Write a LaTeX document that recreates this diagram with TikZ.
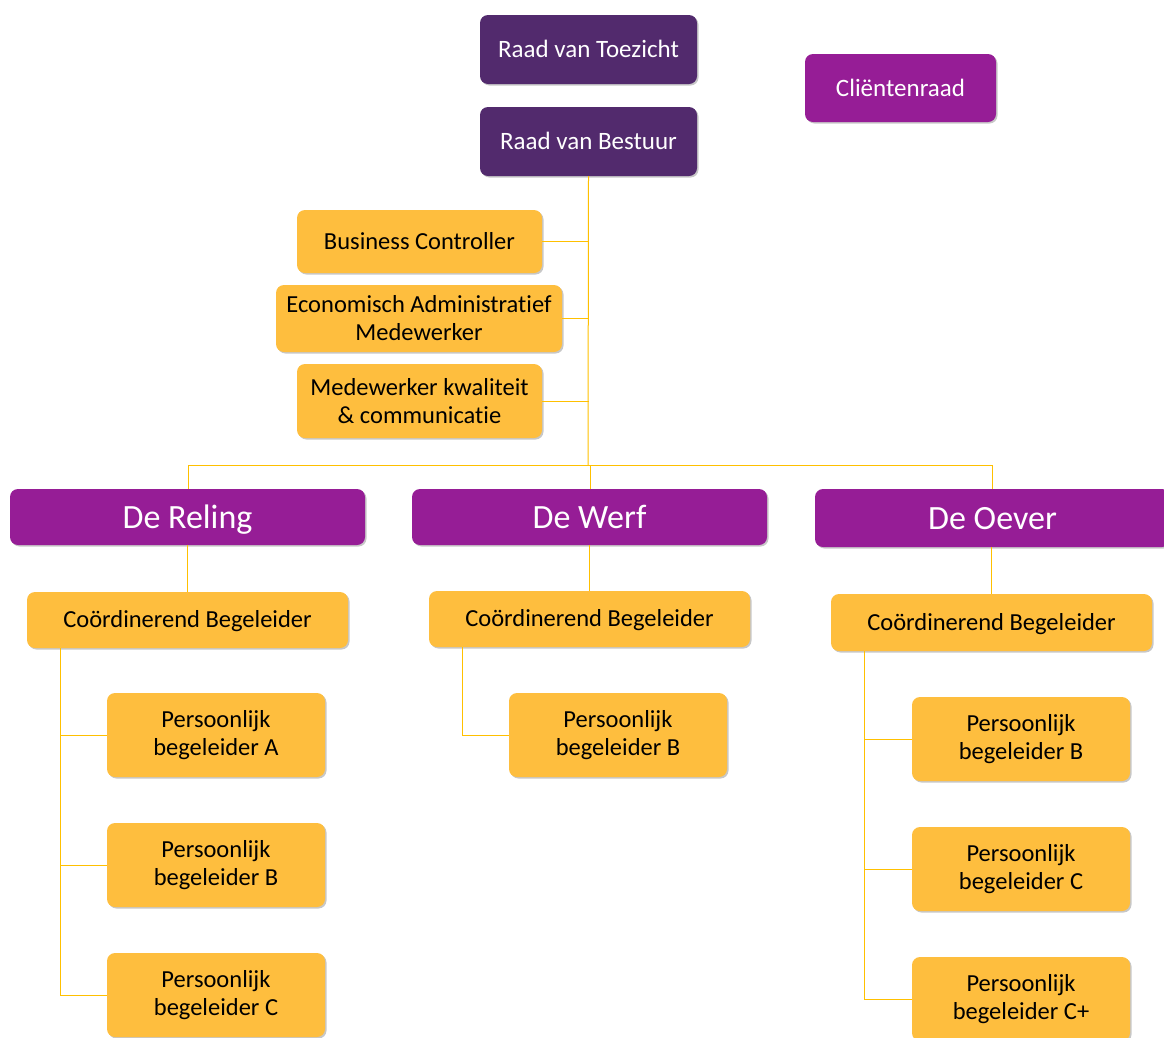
\documentclass[tikz,border=0pt]{standalone}
\usepackage{fontspec}
\setmainfont[Ligatures=NoCommon]{Carlito}
\usetikzlibrary{shadows}
\definecolor{dpurple}{HTML}{522A6D}
\definecolor{mpurple}{HTML}{961D96}
\definecolor{ybox}{HTML}{FEBE3E}
\definecolor{yline}{HTML}{FFC000}
\tikzset{
  base/.style={rounded corners=8pt, inner sep=0pt, align=center,
    general shadow={fill=black, opacity=0.22, shadow xshift=1.5pt, shadow yshift=-1.5pt}},
  dbox/.style={base, fill=dpurple, text=white, font=\fontsize{25}{28}\selectfont},
  mbox/.style={base, fill=mpurple, text=white, font=\fontsize{25}{28}\selectfont},
  lbox/.style={base, fill=mpurple, text=white, font=\fontsize{34}{38}\selectfont},
  obox/.style={base, fill=ybox, text=black, font=\fontsize{24.5}{28}\selectfont},
  one/.style={text height=#1, text depth=0pt},
  conn/.style={draw=yline, line width=1pt}
}
\begin{document}
\begin{tikzpicture}[x=1pt, y=-1pt]
\useasboundingbox (0,0) rectangle (1164,1037);
\coordinate (bus) at (588,465);
\coordinate (busL) at (188,465);
\coordinate (busM) at (590,465);
\coordinate (busR) at (992,465);
\coordinate (vL) at (60,648);
\coordinate (vM) at (462,647);
\coordinate (vR) at (864,651);

% top
\node[dbox, one=16pt, minimum width=217pt, minimum height=69pt] (rvt) at (588.5,49.5) {Raad van Toezicht};
\node[dbox, one=16pt, minimum width=217pt, minimum height=69pt] (rvb) at (588.5,141.5) {Raad van Bestuur};
\node[mbox, one=16pt, minimum width=191pt, minimum height=68pt] (cr) at (900.5,88) {Cliëntenraad};

% staff
\node[obox, one=15.8pt, minimum width=245pt, minimum height=63pt] (bc) at (419.5,241.5) {Business Controller};
\node[obox, minimum width=286pt, minimum height=67pt] (eam) at (419,318.5) {Economisch Administratief\\Medewerker};
\node[obox, minimum width=245pt, minimum height=74pt] (mkc) at (419.5,401) {Medewerker kwaliteit\\\& communicatie};

% locations
\node[lbox, one=22pt, minimum width=355pt, minimum height=56pt] (rel) at (187.5,517) {De Reling};
\node[lbox, one=22pt, minimum width=355pt, minimum height=56pt] (werf) at (589.5,517) {De Werf};
\node[lbox, one=22pt, minimum width=355pt, minimum height=58pt] (oev) at (992.5,518) {De Oever};

% coordinators
\node[obox, one=15.8pt, minimum width=321pt, minimum height=56pt] (cbL) at (187.5,620) {Coördinerend Begeleider};
\node[obox, one=15.8pt, minimum width=321pt, minimum height=56pt] (cbM) at (589.5,619) {Coördinerend Begeleider};
\node[obox, one=15.8pt, minimum width=321pt, minimum height=57pt] (cbR) at (991.5,622.5) {Coördinerend Begeleider};

% personal
\node[obox, minimum width=218pt, minimum height=84pt] (pLA) at (216,735) {Persoonlijk\\begeleider A};
\node[obox, minimum width=218pt, minimum height=84pt] (pLB) at (216,865) {Persoonlijk\\begeleider B};
\node[obox, minimum width=218pt, minimum height=84pt] (pLC) at (216,995) {Persoonlijk\\begeleider C};
\node[obox, minimum width=218pt, minimum height=84pt] (pMB) at (618,735) {Persoonlijk\\begeleider B};
\node[obox, minimum width=218pt, minimum height=84pt] (pRB) at (1021,739) {Persoonlijk\\begeleider B};
\node[obox, minimum width=218pt, minimum height=84pt] (pRC) at (1021,869) {Persoonlijk\\begeleider C};
\node[obox, minimum width=218pt, minimum height=84pt] (pRD) at (1021,999) {Persoonlijk\\begeleider C+};

% connectors
\draw[conn] (rvb.south) -- (bus);
\draw[conn] (bc.east) -- (bc.east -| rvb.south);
\draw[conn] (eam.east) -- (eam.east -| rvb.south);
\draw[conn] (mkc.east) -- (mkc.east -| rvb.south);
\draw[conn] (rel.north -| busL) -- (busL) -- (busR) -- (oev.north -| busR);
\draw[conn] (busM) -- (werf.north -| busM);
\draw[conn] (rel.south) -- (cbL.north);
\draw[conn] (werf.south) -- (cbM.north);
\draw[conn] (oev.south -| cbR.north) -- (cbR.north);
\draw[conn] (vL) -- (vL |- pLC.west) -- (pLC.west);
\draw[conn] (vL |- pLA.west) -- (pLA.west);
\draw[conn] (vL |- pLB.west) -- (pLB.west);
\draw[conn] (vM) -- (vM |- pMB.west) -- (pMB.west);
\draw[conn] (vR) -- (vR |- pRD.west) -- (pRD.west);
\draw[conn] (vR |- pRB.west) -- (pRB.west);
\draw[conn] (vR |- pRC.west) -- (pRC.west);
\end{tikzpicture}
\end{document}
